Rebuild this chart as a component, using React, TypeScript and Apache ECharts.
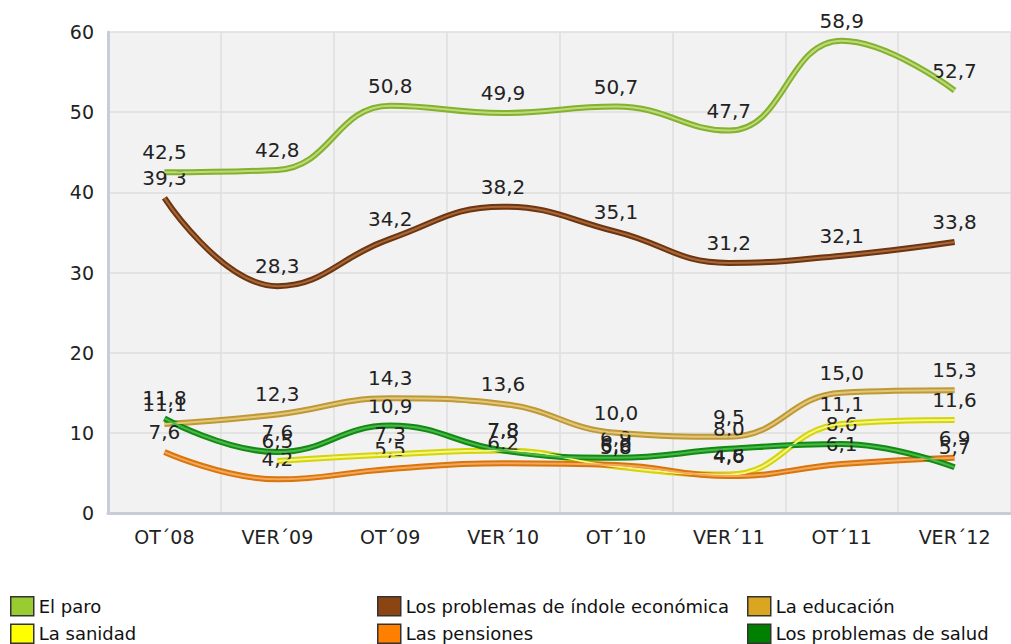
import React, { useEffect, useRef } from "react";
import * as echarts from "echarts";

const categories = ["OT´08", "VER´09", "OT´09", "VER´10", "OT´10", "VER´11", "OT´11", "VER´12"];
const yTicks = [0, 10, 20, 30, 40, 50, 60];

const paro = [42.5, 42.8, 50.8, 49.9, 50.7, 47.7, 58.9, 52.7];
const economica = [39.3, 28.3, 34.2, 38.2, 35.1, 31.2, 32.1, 33.8];
const educacion = [11.1, 12.3, 14.3, 13.6, 10.0, 9.5, 15.0, 15.3];
const sanidad = [null, 6.5, 7.3, 7.8, 5.8, 4.8, 11.1, 11.6];
const pensiones = [7.6, 4.2, 5.5, 6.2, 6.0, 4.6, 6.1, 6.9];
const salud = [11.8, 7.6, 10.9, 7.8, 6.9, 8.0, 8.6, 5.7];

const seriesDefs = [
  { name: "El paro", data: paro, base: "#86b030", hl: "#bcdc78", legend: "#99cc33" },
  { name: "Los problemas de índole económica", data: economica, base: "#6e3610", hl: "#a8683a", legend: "#8b4513" },
  { name: "La educación", data: educacion, base: "#bf9838", hl: "#e2c878", legend: "#daa520" },
  { name: "La sanidad", data: sanidad, base: "#d4d40e", hl: "#f6f680", legend: "#ffff00" },
  { name: "Las pensiones", data: pensiones, base: "#d9750d", hl: "#f3a75a", legend: "#ff8000" },
  { name: "Los problemas de salud", data: salud, base: "#138a13", hl: "#48b848", legend: "#008000" },
];

const legendCols = [
  { left: 10, names: ["El paro", "La sanidad"] },
  { left: 377, names: ["Los problemas de índole económica", "Las pensiones"] },
  { left: 747, names: ["La educación", "Los problemas de salud"] },
];

const fmt = (v: number) => v.toFixed(1).replace(".", ",");

export default function App() {
  const ref = useRef<HTMLDivElement>(null);
  useEffect(() => {
    document.body.style.margin = "0";
    if (!ref.current) return;
    const chart = echarts.init(ref.current, undefined, { renderer: "svg" });
    const series: any[] = [];
    seriesDefs.forEach((s) => {
      series.push({
        name: s.name,
        type: "line",
        data: s.data,
        smooth: 0.45,
        symbol: "circle",
        symbolSize: 0,
        showSymbol: true,
        color: s.base,
        itemStyle: { color: s.base },
        lineStyle: { width: 6, color: s.base },
        label: {
          show: true,
          position: "top",
          distance: 10,
          fontFamily: "DejaVu Sans",
          fontSize: 20,
          color: "#222",
          formatter: (p: any) => fmt(p.value),
        },
        z: 2,
      });
    });
    seriesDefs.forEach((s) => {
      series.push({
        name: s.name + " hl",
        type: "line",
        data: s.data,
        smooth: 0.45,
        symbol: "none",
        silent: true,
        lineStyle: { width: 2, color: s.hl },
        label: { show: false },
        z: 3,
      });
    });
    const legendColor: Record<string, string> = {};
    seriesDefs.forEach((s) => (legendColor[s.name] = s.legend));
    chart.setOption({
      animation: false,
      backgroundColor: "#ffffff",
      grid: {
        left: 108,
        right: 0,
        top: 32,
        bottom: 131,
        show: true,
        backgroundColor: "#f2f2f2",
        borderWidth: 0,
      },
      legend: legendCols.map((c) => ({
        orient: "vertical",
        left: c.left,
        top: 596,
        height: 60,
        padding: 0,
        itemWidth: 23,
        itemHeight: 19,
        itemGap: 7,
        icon: "rect",
        selectedMode: false,
        textStyle: { fontFamily: "DejaVu Sans", fontSize: 18, color: "#111" },
        data: c.names.map((n) => ({
          name: n,
          icon: "rect",
          itemStyle: { color: legendColor[n], borderColor: "#333", borderWidth: 1.5, opacity: 1 },
        })),
      })),
      xAxis: {
        type: "category",
        data: categories,
        boundaryGap: true,
        axisLine: { show: true, lineStyle: { color: "#c6cfd9", width: 3 } },
        axisTick: { show: false },
        axisLabel: { fontFamily: "DejaVu Sans", fontSize: 19, color: "#222", margin: 14 },
        splitLine: { show: true, interval: 0, lineStyle: { color: "#dedede", width: 1.5 } },
      },
      yAxis: {
        type: "value",
        min: 0,
        max: 60,
        interval: 10,
        axisLine: { show: true, lineStyle: { color: "#c6cfd9", width: 3 } },
        axisTick: { show: false },
        axisLabel: {
          fontFamily: "DejaVu Sans",
          fontSize: 19,
          color: "#222",
          margin: 14,
          formatter: (v: number) => (yTicks.includes(v) ? String(v) : ""),
        },
        splitLine: { show: true, lineStyle: { color: "#dedede", width: 1.5 } },
      },
      series,
    });
    return () => chart.dispose();
  }, []);
  return <div ref={ref} style={{ width: 1011, height: 644 }} />;
}
